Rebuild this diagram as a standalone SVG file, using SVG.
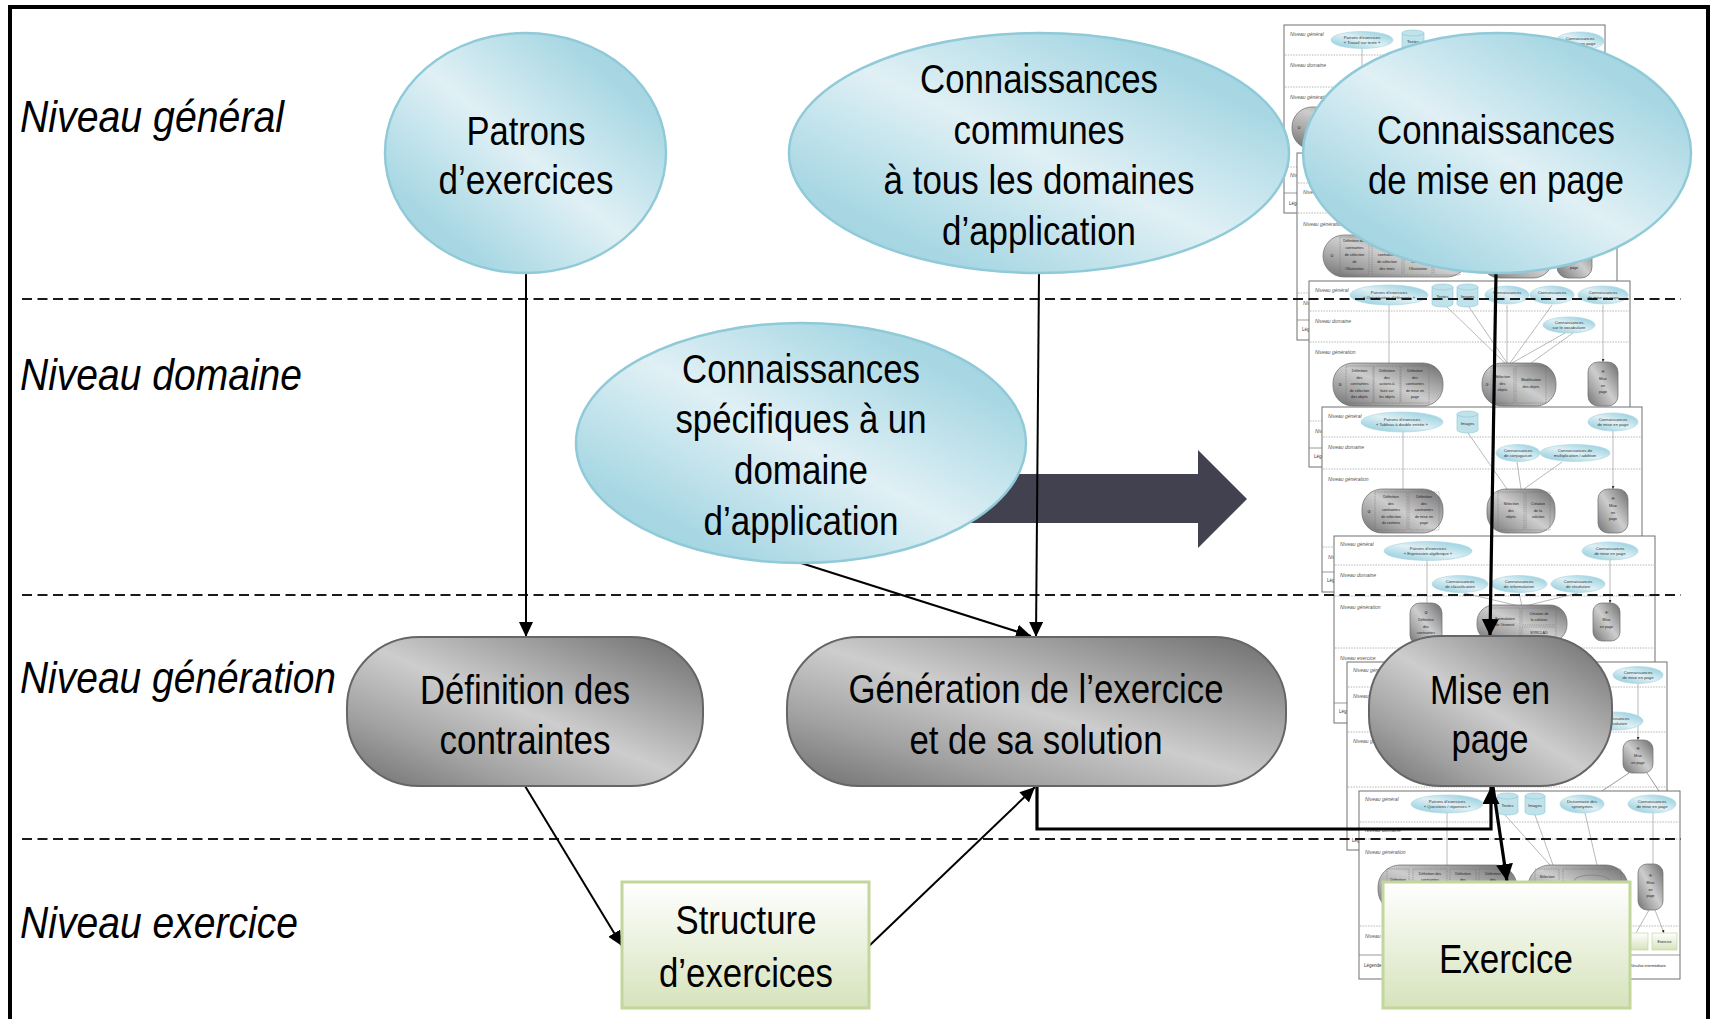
<svg xmlns="http://www.w3.org/2000/svg" width="1712" height="1019" viewBox="0 0 1712 1019">
<style>
.frame{fill:none;stroke:#000;stroke-width:4}
.dash{stroke:#1a1a1a;stroke-width:2.2;stroke-dasharray:10 5.5;fill:none}
.nt{font-family:"Liberation Sans Narrow","Liberation Sans",Arial,sans-serif;font-size:40px;fill:#000;text-anchor:middle}
.lv{font-family:"Liberation Sans Narrow","Liberation Sans",Arial,sans-serif;font-size:45px;font-style:italic;fill:#000}
.blue{fill:url(#gBlue);stroke:#90cad9;stroke-width:2.5}
.gray{fill:url(#gGray);stroke:#666;stroke-width:2}
.green{fill:url(#gGreen);stroke:#c3d69b;stroke-width:3}
.con{fill:none;stroke:#000;stroke-width:2;marker-end:url(#ah)}
.conb{fill:none;stroke:#000;stroke-width:3.2;marker-end:url(#ahb)}
.tf{fill:#fff;stroke:#707070;stroke-width:1}
.td{fill:none;stroke:#a5a5a5;stroke-width:.8;stroke-dasharray:1.5 1.2}
.ts{fill:none;stroke:#808080;stroke-width:.8}
.tn{font-family:"Liberation Sans",Arial,sans-serif;font-size:5px;font-style:italic;fill:#555}
.tl{font-family:"Liberation Sans",Arial,sans-serif;font-size:4.5px;fill:#333}
.tx{font-family:"Liberation Sans",Arial,sans-serif;font-size:4.2px;fill:#333;text-anchor:middle}
.ty{font-family:"Liberation Sans",Arial,sans-serif;font-size:3.7px;fill:#222;text-anchor:middle}
.tc{font-family:"DejaVu Sans",sans-serif;font-size:4.5px;fill:#222;text-anchor:middle}
.te{fill:url(#gBlue);stroke:#a3d4e0;stroke-width:.6}
.tp{fill:url(#gGray);stroke:#6a6a6a;stroke-width:.7}
.tb{fill:none;stroke:#6a6a6a;stroke-width:.5;stroke-dasharray:1 .8}
.tk{fill:none;stroke:#8a8a8a;stroke-width:.6;marker-end:url(#tah)}
.tcy{fill:#bfe2eb;stroke:#8fc8d6;stroke-width:.6}
.tg{fill:url(#gGreen);stroke:#c3d69b;stroke-width:.7}
</style>
<defs>
<linearGradient id="gBlue" x1="1" y1="0" x2="0" y2="1">
<stop offset="0" stop-color="#9acfdc"/>
<stop offset="0.2" stop-color="#a9d8e4"/>
<stop offset="0.5" stop-color="#e0f0f5"/>
<stop offset="0.8" stop-color="#a9d8e4"/>
<stop offset="1" stop-color="#9acfdc"/>
</linearGradient>
<linearGradient id="gGray" x1="1" y1="0" x2="0" y2="1">
<stop offset="0" stop-color="#6a6a6a"/>
<stop offset="0.25" stop-color="#9c9c9c"/>
<stop offset="0.5" stop-color="#cdcdcd"/>
<stop offset="0.75" stop-color="#a2a2a2"/>
<stop offset="1" stop-color="#6e6e6e"/>
</linearGradient>
<linearGradient id="gGreen" x1="0" y1="0" x2="0" y2="1">
<stop offset="0" stop-color="#ffffff"/>
<stop offset="1" stop-color="#d6e3bc"/>
</linearGradient>
<marker id="ah" markerUnits="userSpaceOnUse" viewBox="0 0 15 14" markerWidth="15" markerHeight="14" refX="15" refY="7" orient="auto"><path d="M0,0 L15,7 L0,14 z" fill="#000"/></marker>
<marker id="ahb" markerUnits="userSpaceOnUse" viewBox="0 0 17 17" markerWidth="17" markerHeight="17" refX="17" refY="8.5" orient="auto"><path d="M0,0 L17,8.5 L0,17 z" fill="#000"/></marker>
<marker id="tah" markerUnits="userSpaceOnUse" viewBox="0 0 3 3" markerWidth="3" markerHeight="3" refX="3" refY="1.5" orient="auto"><path d="M0,0 L3,1.5 L0,3 z" fill="#333"/></marker>
</defs>

<rect class="frame" x="10" y="7" width="1698" height="1030"/>

<!-- Thumbnails (stacked screenshots of example diagrams) -->
<g id="thumb1" transform="translate(1284,25)">
<rect class="tf" width="321" height="188"/>
<path class="td" d="M1 30H320M1 62H320M1 142H320"/>
<path class="ts" d="M0 168H321"/>
<text class="tn" x="6" y="11">Niveau général</text>
<text class="tn" x="6" y="42">Niveau domaine</text>
<text class="tn" x="6" y="74">Niveau génération</text>
<text class="tn" x="6" y="152">Niveau exercice</text>
<text class="tl" x="5" y="180">Légende :</text>
<path class="tk" d="M78 24V82"/>
<ellipse class="te" cx="78" cy="15" rx="31" ry="8.5"/>
<text class="tx" x="78" y="13.5">Patrons d’exercices</text>
<text class="tx" x="78" y="19">« Travail sur texte »</text>
<path class="tcy" d="M118 8v14a11 3 0 0 0 22 0v-14a11 3 0 0 0 -22 0z"/>
<path class="tcy" d="M118 8a11 3 0 0 0 22 0"/>
<text class="tx" x="129" y="18">Textes</text>
<ellipse class="te" cx="296" cy="16" rx="24" ry="9"/>
<text class="tx" x="296" y="14.5">Connaissances</text>
<text class="tx" x="296" y="20">de mise en page</text>
<rect class="tp" x="8" y="82" width="142" height="42" rx="20"/>
<text class="tc" x="15" y="104">①</text>
<rect class="tp" x="165" y="82" width="85" height="42" rx="20"/>
<rect class="tp" x="276" y="82" width="30" height="42" rx="10"/>
</g>

<g id="thumb2" transform="translate(1297,153)">
<rect class="tf" width="320" height="187"/>
<path class="td" d="M1 30H319M1 60H319M1 140H319"/>
<path class="ts" d="M0 167H320"/>
<text class="tn" x="6" y="11">Niveau général</text>
<text class="tn" x="6" y="41">Niveau domaine</text>
<text class="tn" x="6" y="73">Niveau génération</text>
<text class="tn" x="6" y="152">Niveau exercice</text>
<text class="tl" x="5" y="178">Légende :</text>
<rect class="tp" x="26" y="82" width="145" height="42" rx="21"/>
<text class="tc" x="35" y="104">①</text>
<rect class="tb" x="43" y="84" width="29" height="38"/>
<rect class="tb" x="75" y="84" width="30" height="38"/>
<rect class="tb" x="107" y="84" width="28" height="38"/>
<rect class="tb" x="137" y="84" width="26" height="38"/>
<text class="ty" x="57.5" y="89">Définition des</text>
<text class="ty" x="57.5" y="96">contraintes</text>
<text class="ty" x="57.5" y="103">de sélection</text>
<text class="ty" x="57.5" y="110">de</text>
<text class="ty" x="57.5" y="117">l’illustration</text>
<text class="ty" x="90" y="103">contraintes</text>
<text class="ty" x="90" y="110">de sélection</text>
<text class="ty" x="90" y="117">des mots</text>
<text class="ty" x="121" y="110">faire sur</text>
<text class="ty" x="121" y="117">l’illustration</text>
<text class="ty" x="150" y="113">page</text>
<rect class="tp" x="183" y="82" width="73" height="43" rx="20"/>
<rect class="tp" x="260" y="82" width="35" height="43" rx="11"/>
<text class="ty" x="277" y="116">page</text>
</g>

<g id="thumb3" transform="translate(1309,281)">
<rect class="tf" width="321" height="186"/>
<path class="td" d="M1 30H320M1 61H320M1 140H320"/>
<path class="ts" d="M0 167H321"/>
<text class="tn" x="6" y="11">Niveau général</text>
<text class="tn" x="6" y="42">Niveau domaine</text>
<text class="tn" x="6" y="73">Niveau génération</text>
<text class="tn" x="6" y="152">Niveau exercice</text>
<text class="tl" x="5" y="177">Légende :</text>
<path class="tk" d="M80 24V82M138 26L196 82M160 26L198 82M198 24V82M243 24L201 82M256 52L203 82M264 52L222 82M294 24V81"/>
<ellipse class="te" cx="80" cy="14" rx="39" ry="10"/>
<text class="tx" x="80" y="12.5">Patrons d’exercices</text>
<text class="tx" x="80" y="18">« Organisation d’éléments »</text>
<path class="tcy" d="M123 6v17a10.5 3 0 0 0 21 0v-17a10.5 3 0 0 0 -21 0z"/>
<path class="tcy" d="M123 6a10.5 3 0 0 0 21 0"/>
<text class="tx" x="133.5" y="17">Textes</text>
<path class="tcy" d="M148 6v17a10.5 3 0 0 0 21 0v-17a10.5 3 0 0 0 -21 0z"/>
<path class="tcy" d="M148 6a10.5 3 0 0 0 21 0"/>
<text class="tx" x="158.5" y="17">Images</text>
<ellipse class="te" cx="198" cy="14" rx="22" ry="9"/>
<text class="tx" x="198" y="12.5">Connaissances</text>
<ellipse class="te" cx="243" cy="14" rx="22" ry="9"/>
<text class="tx" x="243" y="12.5">Connaissances</text>
<ellipse class="te" cx="294" cy="14" rx="25" ry="9"/>
<text class="tx" x="294" y="12.5">Connaissances</text>
<text class="tx" x="294" y="18">de mise en page</text>
<ellipse class="te" cx="260" cy="44" rx="26" ry="8"/>
<text class="tx" x="260" y="42.5">Connaissances</text>
<text class="tx" x="260" y="48">sur le vocabulaire</text>
<rect class="tp" x="24" y="82" width="110" height="43" rx="20"/>
<text class="tc" x="31" y="105">②</text>
<rect class="tb" x="37" y="85" width="27" height="37"/>
<rect class="tb" x="65" y="85" width="26" height="37"/>
<rect class="tb" x="92" y="85" width="28" height="37"/>
<text class="ty" x="50.5" y="91">Définition</text><text class="ty" x="50.5" y="97.5">des</text><text class="ty" x="50.5" y="104">contraintes</text><text class="ty" x="50.5" y="110.5">de sélection</text><text class="ty" x="50.5" y="117">des objets</text>
<text class="ty" x="78" y="91">Définition</text><text class="ty" x="78" y="97.5">des</text><text class="ty" x="78" y="104">actions à</text><text class="ty" x="78" y="110.5">faire sur</text><text class="ty" x="78" y="117">les objets</text>
<text class="ty" x="106" y="91">Définition</text><text class="ty" x="106" y="97.5">des</text><text class="ty" x="106" y="104">contraintes</text><text class="ty" x="106" y="110.5">de mise en</text><text class="ty" x="106" y="117">page</text>
<rect class="tp" x="173" y="82" width="74" height="43" rx="20"/>
<text class="tc" x="178" y="105">③</text>
<rect class="tb" x="182" y="85" width="23" height="37"/>
<rect class="tb" x="207" y="85" width="30" height="37"/>
<text class="ty" x="193.5" y="97">Sélection</text><text class="ty" x="193.5" y="103.5">des</text><text class="ty" x="193.5" y="110">objets</text>
<text class="ty" x="222" y="100">Modification</text><text class="ty" x="222" y="106.5">des objets</text>
<rect class="tp" x="279" y="81" width="30" height="44" rx="10"/>
<text class="tc" x="294" y="92">④</text>
<text class="ty" x="294" y="99">Mise</text><text class="ty" x="294" y="105.5">en</text><text class="ty" x="294" y="112">page</text>
</g>

<g id="thumb4" transform="translate(1322,407)">
<rect class="tf" width="320" height="185"/>
<path class="td" d="M1 30H319M1 62H319M1 140H319"/>
<path class="ts" d="M0 165H320"/>
<text class="tn" x="6" y="11">Niveau général</text>
<text class="tn" x="6" y="42">Niveau domaine</text>
<text class="tn" x="6" y="74">Niveau génération</text>
<text class="tn" x="6" y="152">Niveau exercice</text>
<text class="tl" x="5" y="175">Légende :</text>
<path class="tk" d="M81 25V82M146 26L185 82M195 55L199 82M240 55L202 82M291 24V82"/>
<ellipse class="te" cx="80" cy="15" rx="41" ry="10"/>
<text class="tx" x="80" y="13.5">Patrons d’exercices</text>
<text class="tx" x="80" y="19">« Tableau à double entrée »</text>
<path class="tcy" d="M135 7v16a10.5 3 0 0 0 21 0v-16a10.5 3 0 0 0 -21 0z"/>
<path class="tcy" d="M135 7a10.5 3 0 0 0 21 0"/>
<text class="tx" x="145.5" y="18">Images</text>
<ellipse class="te" cx="291" cy="15" rx="25" ry="9"/>
<text class="tx" x="291" y="13.5">Connaissances</text>
<text class="tx" x="291" y="19">de mise en page</text>
<ellipse class="te" cx="196" cy="46" rx="22" ry="8.5"/>
<text class="tx" x="196" y="44.5">Connaissances</text>
<text class="tx" x="196" y="50">de conjugaison</text>
<ellipse class="te" cx="253" cy="46" rx="35" ry="8.5"/>
<text class="tx" x="253" y="44.5">Connaissances de</text>
<text class="tx" x="253" y="50">multiplication / addition</text>
<rect class="tp" x="40" y="82" width="81" height="44" rx="20"/>
<text class="tc" x="47" y="106">②</text>
<rect class="tb" x="53" y="85" width="32" height="38"/>
<rect class="tb" x="87" y="85" width="30" height="38"/>
<text class="ty" x="69" y="91">Définition</text><text class="ty" x="69" y="97.5">des</text><text class="ty" x="69" y="104">contraintes</text><text class="ty" x="69" y="110.5">de sélection</text><text class="ty" x="69" y="117">du contenu</text>
<text class="ty" x="102" y="91">Définition</text><text class="ty" x="102" y="97.5">des</text><text class="ty" x="102" y="104">contraintes</text><text class="ty" x="102" y="110.5">de mise en</text><text class="ty" x="102" y="117">page</text>
<rect class="tp" x="165" y="82" width="68" height="44" rx="19"/>
<rect class="tb" x="176" y="85" width="26" height="38"/>
<rect class="tb" x="204" y="85" width="24" height="38"/>
<text class="ty" x="189" y="98">Sélection</text><text class="ty" x="189" y="104.5">des</text><text class="ty" x="189" y="111">objets</text>
<text class="ty" x="216" y="98">Création</text><text class="ty" x="216" y="104.5">de la</text><text class="ty" x="216" y="111">solution</text>
<rect class="tp" x="276" y="82" width="30" height="44" rx="10"/>
<text class="tc" x="291" y="93">④</text>
<text class="ty" x="291" y="100">Mise</text><text class="ty" x="291" y="106.5">en</text><text class="ty" x="291" y="113">page</text>
</g>

<g id="thumb5" transform="translate(1334,536)">
<rect class="tf" width="321" height="187"/>
<path class="td" d="M1 29H320M1 60H320M1 112H320"/>
<path class="ts" d="M0 167H321"/>
<text class="tn" x="6" y="10">Niveau général</text>
<text class="tn" x="6" y="41">Niveau domaine</text>
<text class="tn" x="6" y="73">Niveau génération</text>
<text class="tn" x="6" y="124">Niveau exercice</text>
<text class="tl" x="5" y="177">Légende :</text>
<path class="tk" d="M93 24V67M130 57L185 70M185 57L188 70M244 57L191 70M276 24V67"/>
<ellipse class="te" cx="94" cy="15" rx="44" ry="9.5"/>
<text class="tx" x="94" y="13.5">Patrons d’exercices</text>
<text class="tx" x="94" y="19">« Expression algébrique »</text>
<ellipse class="te" cx="276" cy="15" rx="28" ry="9"/>
<text class="tx" x="276" y="13.5">Connaissances</text>
<text class="tx" x="276" y="19">de mise en page</text>
<ellipse class="te" cx="126" cy="48" rx="28" ry="8.5"/>
<text class="tx" x="126" y="46.5">Connaissances</text>
<text class="tx" x="126" y="52">de classification</text>
<ellipse class="te" cx="185" cy="48" rx="28" ry="8.5"/>
<text class="tx" x="185" y="46.5">Connaissances</text>
<text class="tx" x="185" y="52">de reformulation</text>
<ellipse class="te" cx="244" cy="48" rx="27" ry="8.5"/>
<text class="tx" x="244" y="46.5">Connaissances</text>
<text class="tx" x="244" y="52">de résolution</text>
<rect class="tp" x="76" y="67" width="32" height="42" rx="10"/>
<text class="tc" x="92" y="78">②</text>
<text class="ty" x="92" y="85">Définition</text><text class="ty" x="92" y="91.5">des</text><text class="ty" x="92" y="98">contraintes</text>
<rect class="tp" x="143" y="69" width="90" height="37" rx="17"/>
<text class="tc" x="151" y="87">③</text>
<rect class="tb" x="156" y="72" width="30" height="30"/>
<rect class="tb" x="188" y="72" width="34" height="17"/>
<rect class="tb" x="188" y="91" width="34" height="11"/>
<text class="ty" x="171" y="84">Formulation</text><text class="ty" x="171" y="90">de l’énoncé</text>
<text class="ty" x="205" y="79">Création de</text><text class="ty" x="205" y="85">la solution</text>
<text class="ty" x="205" y="98">SYRCLAD</text>
<rect class="tp" x="259" y="67" width="27" height="38" rx="9"/>
<text class="tc" x="272.5" y="78">④</text>
<text class="ty" x="272.5" y="85">Mise</text><text class="ty" x="272.5" y="91.5">en page</text>
</g>

<g id="thumb6" transform="translate(1347,662)">
<rect class="tf" width="320" height="188"/>
<path class="td" d="M1 25H319M1 70H319M1 125H319"/>
<path class="ts" d="M0 168H320"/>
<text class="tn" x="6" y="10">Niveau général</text>
<text class="tn" x="6" y="36">Niveau domaine</text>
<text class="tn" x="6" y="81">Niveau génération</text>
<text class="tl" x="5" y="180">Légende :</text>
<path class="tk" d="M291 22V78"/>
<path class="ts" d="M282 111L255 129M300 111L312 129"/>
<ellipse class="te" cx="291" cy="13" rx="25" ry="8.5"/>
<text class="tx" x="291" y="11.5">Connaissances</text>
<text class="tx" x="291" y="17">de mise en page</text>
<ellipse class="te" cx="268" cy="59" rx="28" ry="9"/>
<text class="tx" x="268" y="57.5">Connaissances</text>
<text class="tx" x="268" y="63">de résolution</text>
<rect class="tp" x="276" y="78" width="30" height="33" rx="9"/>
<text class="tc" x="291" y="88">④</text>
<text class="ty" x="291" y="95">Mise</text><text class="ty" x="291" y="101.5">en page</text>
</g>

<g id="thumb7" transform="translate(1359,791)">
<rect class="tf" width="321" height="188"/>
<path class="td" d="M1 31H320M1 48H320M1 135H320"/>
<path class="ts" d="M0 164H321"/>
<text class="tn" x="6" y="10">Niveau général</text>
<text class="tn" x="6" y="41">Niveau domaine</text>
<text class="tn" x="6" y="63">Niveau génération</text>
<text class="tn" x="6" y="147">Niveau exercice</text>
<text class="tl" x="5" y="176">Légende :</text>
<text class="ty" x="271" y="176" style="text-anchor:start">Résultat intermédiaire</text>
<path class="tk" d="M88 22V74M146 24L191 74M176 24L194 74M226 22L238 74M294 22V73M290 119L277 142M296 119L305 142"/>
<ellipse class="te" cx="88" cy="13" rx="36" ry="9"/>
<text class="tx" x="88" y="11.5">Patrons d’exercices</text>
<text class="tx" x="88" y="17">« Questions / réponses »</text>
<path class="tcy" d="M138 5v16a10.5 3 0 0 0 21 0v-16a10.5 3 0 0 0 -21 0z"/>
<path class="tcy" d="M138 5a10.5 3 0 0 0 21 0"/>
<text class="tx" x="148.5" y="16">Textes</text>
<path class="tcy" d="M166 5v16a10 3 0 0 0 20 0v-16a10 3 0 0 0 -20 0z"/>
<path class="tcy" d="M166 5a10 3 0 0 0 20 0"/>
<text class="tx" x="176" y="16">Images</text>
<ellipse class="te" cx="223" cy="13" rx="22" ry="9"/>
<text class="tx" x="223" y="11.5">Dictionnaire des</text>
<text class="tx" x="223" y="17">synonymes</text>
<ellipse class="te" cx="293" cy="13" rx="24" ry="9"/>
<text class="tx" x="293" y="11.5">Connaissances</text>
<text class="tx" x="293" y="17">de mise en page</text>
<rect class="tp" x="19" y="74" width="139" height="47" rx="22"/>
<rect class="tb" x="28" y="78" width="22" height="38"/>
<rect class="tb" x="54" y="78" width="34" height="38"/>
<rect class="tb" x="91" y="78" width="26" height="38"/>
<rect class="tb" x="120" y="78" width="28" height="38"/>
<text class="ty" x="39" y="90">Définition</text>
<text class="ty" x="71" y="84">Définition des</text><text class="ty" x="71" y="90">contraintes</text>
<text class="ty" x="104" y="84">Définition</text><text class="ty" x="104" y="90">des</text>
<text class="ty" x="134" y="84">Définition</text><text class="ty" x="134" y="90">des</text>
<rect class="tp" x="169" y="74" width="100" height="47" rx="22"/>
<rect class="tb" x="176" y="78" width="24" height="38"/>
<rect class="tb" x="204" y="78" width="58" height="38"/>
<path class="ts" d="M215 90a18 6 0 0 1 36 0"/>
<text class="ty" x="188" y="87">Sélection</text>
<rect class="tp" x="279" y="73" width="25" height="46" rx="9"/>
<text class="tc" x="291.5" y="86">④</text>
<text class="ty" x="291.5" y="93">Mise</text><text class="ty" x="291.5" y="99.5">en</text><text class="ty" x="291.5" y="106">page</text>
<rect class="tg" x="266" y="142" width="23" height="17"/>
<rect class="tg" x="293" y="142" width="25" height="17"/>
<text class="ty" x="305.5" y="152">Exercice</text>
</g>

<!-- Big transition arrow -->
<polygon id="bigArrow" points="880,474 1198,474 1198,450 1247,499 1198,548 1198,523 880,523" fill="#41414f"/>

<!-- Level separators -->
<g id="separators">
<path class="dash" d="M22 299H1681M22 595H1681M22 839H1681"/>
</g>

<!-- Level labels -->
<g id="levels">
<text class="lv" x="20" y="132" textLength="264" lengthAdjust="spacingAndGlyphs">Niveau général</text>
<text class="lv" x="20" y="390" textLength="282" lengthAdjust="spacingAndGlyphs">Niveau domaine</text>
<text class="lv" x="20" y="693" textLength="316" lengthAdjust="spacingAndGlyphs">Niveau génération</text>
<text class="lv" x="20" y="938" textLength="278" lengthAdjust="spacingAndGlyphs">Niveau exercice</text>
</g>

<!-- Connectors -->
<g id="connectors">
<path class="con" d="M526 273V637"/>
<path class="con" d="M1039 273L1036 637"/>
<path class="con" d="M801 563L1031 636"/>
<path class="con" d="M525 786L622 946"/>
<path class="con" d="M869 946L1035 787"/>
<path class="conb" d="M1037 786V829H1491V787"/>
<path class="conb" d="M1496 273L1490 636"/>
<path class="conb" d="M1493 787L1507 881"/>
</g>

<!-- Nodes -->
<g id="patrons">
<ellipse class="blue" cx="525.5" cy="153" rx="140.5" ry="120"/>
<text class="nt" x="526" y="145" textLength="119" lengthAdjust="spacingAndGlyphs">Patrons</text>
<text class="nt" x="526" y="194" textLength="175" lengthAdjust="spacingAndGlyphs">d’exercices</text>
</g>
<g id="connCommunes">
<ellipse class="blue" cx="1039" cy="153" rx="250" ry="120"/>
<text class="nt" x="1039" y="93" textLength="238" lengthAdjust="spacingAndGlyphs">Connaissances</text>
<text class="nt" x="1039" y="144" textLength="171" lengthAdjust="spacingAndGlyphs">communes</text>
<text class="nt" x="1039" y="194" textLength="311" lengthAdjust="spacingAndGlyphs">à tous les domaines</text>
<text class="nt" x="1039" y="245" textLength="194" lengthAdjust="spacingAndGlyphs">d’application</text>
</g>
<g id="connMiseEnPage">
<ellipse class="blue" cx="1497" cy="153" rx="194" ry="120"/>
<text class="nt" x="1496" y="144" textLength="238" lengthAdjust="spacingAndGlyphs">Connaissances</text>
<text class="nt" x="1496" y="194" textLength="256" lengthAdjust="spacingAndGlyphs">de mise en page</text>
</g>
<g id="connSpecifiques">
<ellipse class="blue" cx="801" cy="443" rx="225" ry="120"/>
<text class="nt" x="801" y="383" textLength="238" lengthAdjust="spacingAndGlyphs">Connaissances</text>
<text class="nt" x="801" y="433" textLength="251" lengthAdjust="spacingAndGlyphs">spécifiques à un</text>
<text class="nt" x="801" y="484" textLength="134" lengthAdjust="spacingAndGlyphs">domaine</text>
<text class="nt" x="801" y="535" textLength="195" lengthAdjust="spacingAndGlyphs">d’application</text>
</g>
<g id="definition">
<rect class="gray" x="347" y="637" width="356" height="149" rx="72" ry="70"/>
<text class="nt" x="525" y="704" textLength="210" lengthAdjust="spacingAndGlyphs">Définition des</text>
<text class="nt" x="525" y="754" textLength="171" lengthAdjust="spacingAndGlyphs">contraintes</text>
</g>
<g id="generation">
<rect class="gray" x="787" y="637" width="499" height="149" rx="72" ry="70"/>
<text class="nt" x="1036" y="703" textLength="375" lengthAdjust="spacingAndGlyphs">Génération de l’exercice</text>
<text class="nt" x="1036" y="754" textLength="253" lengthAdjust="spacingAndGlyphs">et de sa solution</text>
</g>
<g id="miseEnPage">
<rect class="gray" x="1369" y="636" width="243" height="150" rx="72" ry="70"/>
<text class="nt" x="1490" y="704" textLength="120" lengthAdjust="spacingAndGlyphs">Mise en</text>
<text class="nt" x="1490" y="753" textLength="77" lengthAdjust="spacingAndGlyphs">page</text>
</g>
<g id="structure">
<rect class="green" x="622" y="882" width="247" height="126"/>
<text class="nt" x="746" y="934" textLength="141" lengthAdjust="spacingAndGlyphs">Structure</text>
<text class="nt" x="746" y="987" textLength="174" lengthAdjust="spacingAndGlyphs">d’exercices</text>
</g>
<g id="exercice">
<rect class="green" x="1383" y="882" width="247" height="126"/>
<text class="nt" x="1506" y="973" textLength="134" lengthAdjust="spacingAndGlyphs">Exercice</text>
</g>
</svg>
